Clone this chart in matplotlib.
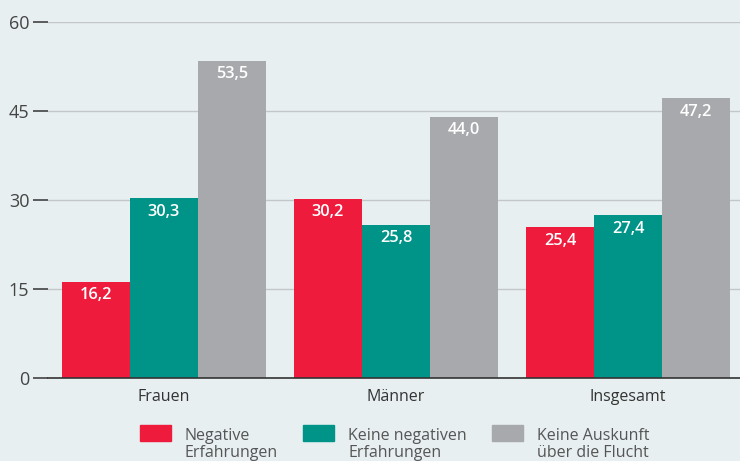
import numpy as np
import matplotlib
matplotlib.use("Agg")
import matplotlib.pyplot as plt
from matplotlib.patches import Rectangle

# data
categories = ["Frauen", "Männer", "Insgesamt"]
series_names = ["Negative\nErfahrungen", "Keine negativen\nErfahrungen", "Keine Auskunft\nüber die Flucht"]
negative = [16.2, 30.2, 25.4]
keine_negativen = [30.3, 25.8, 27.4]
keine_auskunft = [53.5, 44.0, 47.2]
y_ticks = [0, 15, 30, 45, 60]

colors = ["#ee1b3d", "#009488", "#a8a9ac"]
bg = "#e7eff1"

plt.rcParams["font.family"] = ["Open Sans", "DejaVu Sans"]

W, H = 740, 461
fig = plt.figure(figsize=(W / 100, H / 100), dpi=100)
fig.patch.set_facecolor(bg)
ax = fig.add_axes([48 / W, (H - 378) / H, 692 / W, 356 / H])
ax.set_facecolor(bg)

x = np.arange(len(categories))
w = 0.293
for i, vals in enumerate([negative, keine_negativen, keine_auskunft]):
    bars = ax.bar(x + (i - 1) * w, vals, width=w, color=colors[i], zorder=3)
    for b, v in zip(bars, vals):
        ax.annotate(f"{v:.1f}".replace(".", ","), (b.get_x() + b.get_width() / 2, v),
                    xytext=(0, -4), textcoords="offset points", ha="center", va="top",
                    color="white", fontsize=11.8, fontweight="semibold", zorder=4)

ax.set_xlim(-0.5, 2.483)
ax.set_ylim(0, 60)
ax.set_yticks(y_ticks)
ax.set_yticklabels([str(t) for t in y_ticks])
ax.yaxis.grid(True, color="#c3c7c9", linewidth=1, zorder=0)
ax.set_xticks(x)
ax.set_xticklabels(categories)

for s in ["top", "right", "left"]:
    ax.spines[s].set_visible(False)
ax.spines["bottom"].set_color("#333333")
ax.spines["bottom"].set_linewidth(1.2)
ax.spines["bottom"].set_zorder(5)

ax.tick_params(axis="y", length=11, width=1.1, color="#333333", pad=2.5,
               labelsize=13, labelcolor="#444444")
ax.tick_params(axis="x", length=0, pad=8, labelsize=11.5, labelcolor="#333333")

# legend drawn by hand to keep the swatches level with the first text line
patch_x = [140, 303, 492]
text_x = [185, 348, 537]
for px, tx, c, name in zip(patch_x, text_x, colors, series_names):
    fig.add_artist(Rectangle((px / W, (H - 441) / H), 31 / W, 16 / H,
                             transform=fig.transFigure, color=c))
    # baseline of the last line
    fig.text(tx / W, (H - 457) / H, name, ha="left", va="baseline", fontsize=11.5,
             color="#555555", linespacing=1.05)

fig.savefig("out.png", dpi=100, facecolor=bg)
